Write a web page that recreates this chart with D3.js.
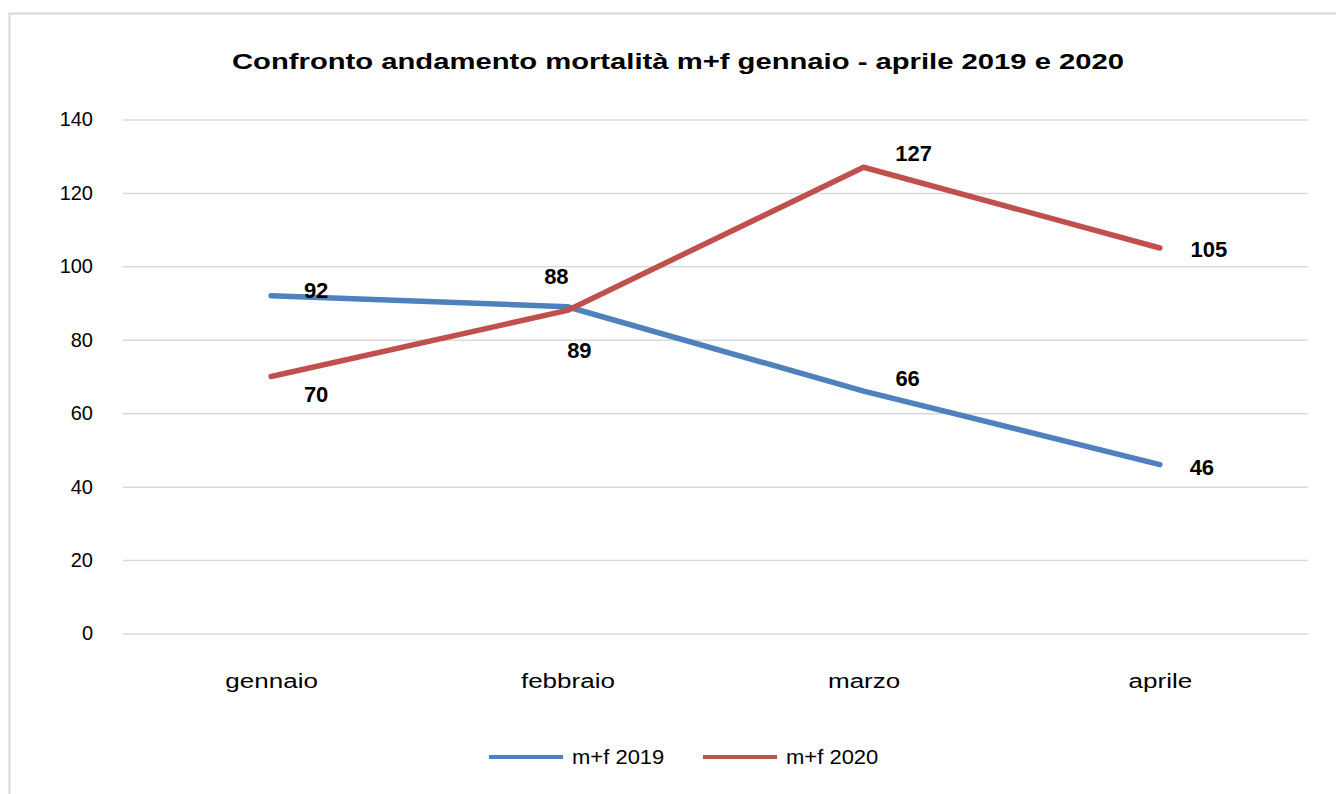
<!DOCTYPE html>
<html><head><meta charset="utf-8">
<script src="https://cdn.jsdelivr.net/npm/d3@7"></script>
<style>body{margin:0;background:#fff}svg{display:block}text{font-family:"Liberation Sans",Arial,sans-serif}</style>
</head><body>
<svg id="c" width="1336" height="794"></svg>
<script>
const title = "Confronto andamento mortalità m+f gennaio - aprile 2019 e 2020";
const months = ["gennaio","febbraio","marzo","aprile"];
const values2019 = [92, 89, 66, 46];
const values2020 = [70, 88, 127, 105];
const seriesNames = ["m+f 2019","m+f 2020"];
const seriesColors = ["#4F81BD","#C0504D"];
const yTicks = [0,20,40,60,80,100,120,140];
// label placement per point: [dx, dy]
const labelOff2019 = [[45,2],[12,51],[44,-5],[42,10]];
const labelOff2020 = [[45,25],[-11,-26],[50,-6],[49,9]];

function stretch(sel, k){
  sel.each(function(){
    const w = this.getComputedTextLength();
    d3.select(this).attr("textLength", w*k).attr("lengthAdjust","spacingAndGlyphs");
  });
}

const svg = d3.select("#c");
svg.append("rect").attr("x",9.5).attr("y",13.5).attr("width",1340).attr("height",800)
  .attr("fill","#fff").attr("stroke","#d9d9d9").attr("stroke-width",2);

const L=123,R=1308,T=119.5,B=633.5;
const x = d3.scalePoint().domain(months).range([L,R]).padding(0.5);
const y = d3.scaleLinear().domain([0,140]).range([B,T]);

const tt = svg.append("text").attr("x",678).attr("y",69).attr("text-anchor","middle")
  .attr("font-size",22).attr("font-weight","bold").text(title);
tt.attr("textLength",892).attr("lengthAdjust","spacingAndGlyphs");

const gy = svg.append("g").attr("transform",`translate(${L},0)`)
  .call(d3.axisLeft(y).tickValues(yTicks).tickSize(-(R-L)).tickPadding(30));
gy.select(".domain").remove();
gy.selectAll(".tick line").attr("stroke","#d9d9d9").attr("stroke-width",1.5);
gy.selectAll(".tick text").attr("font-size",20).attr("fill","#000").attr("font-family","Liberation Sans, Arial, sans-serif");

const gx = svg.append("g").attr("transform",`translate(0,${B})`)
  .call(d3.axisBottom(x).tickSize(0).tickPadding(40));
gx.select(".domain").remove();
gx.selectAll(".tick text").attr("font-size",20).attr("fill","#000").attr("font-family","Liberation Sans, Arial, sans-serif");
stretch(gx.selectAll(".tick text"), 1.3);

const series = [values2019, values2020];
const offs = [labelOff2019, labelOff2020];
const line = d3.line().x((d,i)=>x(months[i])).y(d=>y(d));
series.forEach((vals,s)=>{
  svg.append("path").datum(vals).attr("d",line).attr("fill","none")
    .attr("stroke",seriesColors[s]).attr("stroke-width",5.5).attr("stroke-linecap","round").attr("stroke-linejoin","round");
});
series.forEach((vals,s)=>{
  svg.append("g").selectAll("text").data(vals).join("text")
    .attr("x",(d,i)=>x(months[i])+offs[s][i][0])
    .attr("y",(d,i)=>y(d)+offs[s][i][1])
    .attr("text-anchor","middle").attr("font-size",22).attr("font-weight","bold")
    .text(d=>d);
});

const leg = [{x:489},{x:703}];
seriesNames.forEach((n,s)=>{
  const lx = leg[s].x;
  svg.append("line").attr("x1",lx).attr("x2",lx+74).attr("y1",757).attr("y2",757)
    .attr("stroke",seriesColors[s]).attr("stroke-width",4);
  const t = svg.append("text").attr("x",lx+83).attr("y",764).attr("font-size",20).text(n);
  stretch(t, 1.1);
});
</script>
</body></html>
